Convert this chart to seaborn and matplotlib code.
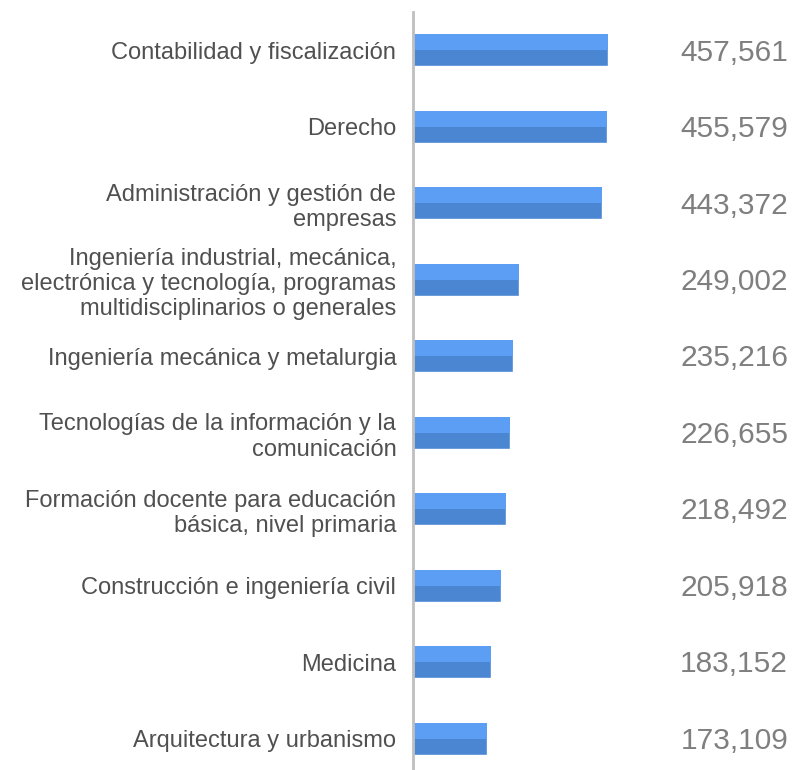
import numpy as np
import pandas as pd
import matplotlib
matplotlib.use("Agg")
import matplotlib.pyplot as plt
import seaborn as sns

# -------------------------------
# Data
# -------------------------------
carreras = [
    "Contabilidad y fiscalización",
    "Derecho",
    "Administración y gestión de\nempresas",
    "Ingeniería industrial, mecánica,\nelectrónica y tecnología, programas\nmultidisciplinarios o generales",
    "Ingeniería mecánica y metalurgia",
    "Tecnologías de la información y la\ncomunicación",
    "Formación docente para educación\nbásica, nivel primaria",
    "Construcción e ingeniería civil",
    "Medicina",
    "Arquitectura y urbanismo",
]
matricula = [457561, 455579, 443372, 249002, 235216, 226655, 218492, 205918, 183152, 173109]
etiquetas = ["457,561", "455,579", "443,372", "249,002", "235,216",
             "226,655", "218,492", "205,918", "183,152", "173,109"]

df = pd.DataFrame({"Carrera": carreras, "Matricula": matricula})

# -------------------------------
# Plot
# -------------------------------
sns.set_style("white")
plt.rcParams["font.family"] = ["Liberation Sans", "DejaVu Sans"]

fig = plt.figure(figsize=(7.92, 7.70), dpi=100)
ax = fig.add_axes([413 / 792, 0.0, 377 / 792, 1 - 12 / 770])

bar_h = 0.42
dark = "#4A86D2"
light = "#5B9EF4"

# full bar in the darker tone
sns.barplot(data=df, x="Matricula", y="Carrera", orient="h", color=dark,
            width=bar_h, saturation=1, ax=ax)
# lighter upper half on top
pos = np.arange(len(carreras))
ax.barh(pos - bar_h / 4, df["Matricula"], height=bar_h / 2, color=light, linewidth=0)

ax.set_xlim(0, 885000)
ax.set_ylim(9.41, -0.5)
ax.set_xlabel("")
ax.set_ylabel("")
ax.set_xticks([])
ax.tick_params(axis="y", length=0, pad=12, labelsize=17, labelcolor="#505050")
for lab in ax.get_yticklabels():
    lab.set_linespacing(1.2)

for s in ["top", "right", "bottom"]:
    ax.spines[s].set_visible(False)
ax.spines["left"].set_color("#BFBFBF")
ax.spines["left"].set_linewidth(2)

# value labels on the right
trans = matplotlib.transforms.blended_transform_factory(ax.transAxes, ax.transData)
for i, t in enumerate(etiquetas):
    ax.text(0.995, i + 0.03, t, transform=trans, ha="right", va="center",
            fontsize=21.5, color="#7F7F7F")

fig.savefig("out.png", dpi=100)
